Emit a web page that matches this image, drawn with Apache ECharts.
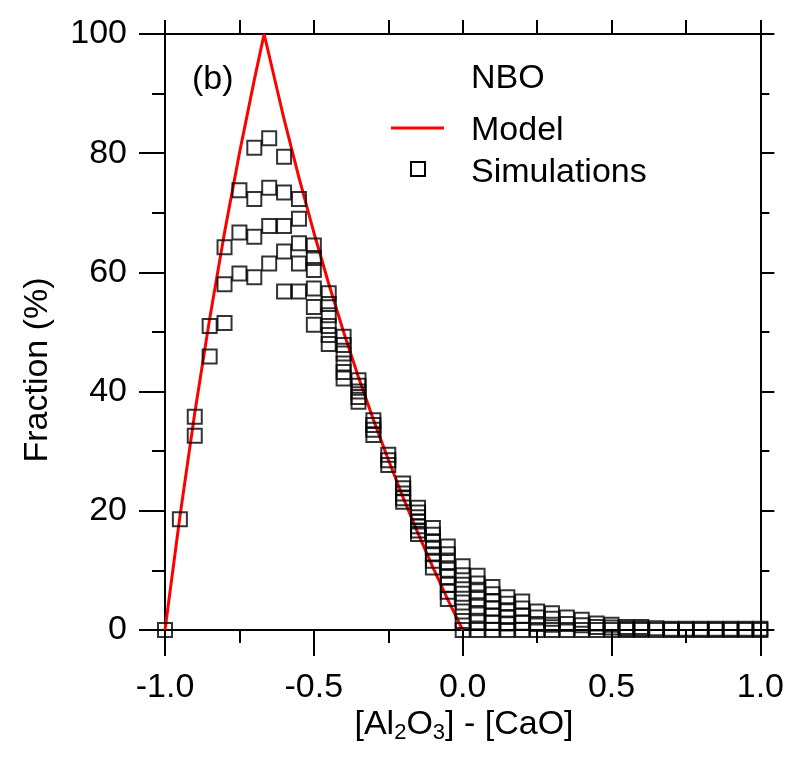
<!DOCTYPE html>
<html><head><meta charset="utf-8">
<script src="https://cdn.jsdelivr.net/npm/echarts@6/dist/echarts.min.js"></script>
<style>html,body{margin:0;padding:0;background:#fff}#c{width:787px;height:757px}</style>
</head><body><div id="c"></div>
<script>
// Model curve
const modelX = [-1.0, -0.95, -0.9, -0.85, -0.8, -0.75, -0.7, -0.667, -0.6, -0.55, -0.5, -0.45, -0.4, -0.35, -0.3, -0.25, -0.2, -0.15, -0.1, -0.05, 0.0];
const modelY = [0, 19.0, 36.4, 52.2, 66.7, 80.0, 92.3, 100, 85.7, 75.9, 66.7, 58.1, 50.0, 42.4, 35.3, 28.6, 22.2, 16.2, 10.5, 5.1, 0];

// Simulations: x columns and the values found in each column
const simX = [-1.0, -0.95, -0.9, -0.85, -0.8, -0.75, -0.7, -0.65, -0.6, -0.55, -0.5, -0.45, -0.4, -0.35, -0.3, -0.25, -0.2, -0.15, -0.1, -0.05, 0.0,
  0.05, 0.1, 0.15, 0.2, 0.25, 0.3, 0.35, 0.4, 0.45, 0.5, 0.55, 0.6, 0.65, 0.7, 0.75, 0.8, 0.85, 0.9, 0.95, 1.0];
const simY = [
  [0],
  [18.6],
  [35.8, 32.6],
  [51.0, 45.9],
  [64.2, 58.0, 51.5],
  [73.8, 66.7, 59.8],
  [80.9, 72.3, 66.0, 59.2],
  [82.5, 74.2, 67.8, 61.5],
  [79.4, 73.4, 67.8, 63.5, 56.8],
  [72.3, 69.0, 64.9, 61.5, 56.8],
  [64.5, 62.4, 60.4, 57.3, 54.2, 51.2],
  [56.5, 54.7, 52.8, 51.0, 49.5, 48.0],
  [49.2, 47.8, 46.4, 44.7, 43.3, 42.2],
  [41.9, 41.0, 40.0, 39.1, 38.3],
  [35.2, 34.4, 33.6, 32.7],
  [29.4, 28.5, 27.7],
  [24.6, 23.8, 22.9, 22.1, 21.5],
  [20.5, 19.7, 18.9, 18.2, 17.4, 16.7, 16.1],
  [17.1, 16.0, 14.9, 13.8, 12.7, 11.6, 10.5],
  [14.0, 12.7, 11.4, 10.1, 8.9, 7.6, 6.4, 5.2],
  [10.7, 9.2, 7.6, 6.1, 4.6, 3.1, 1.5, 0],
  [9.1, 7.8, 6.5, 5.2, 3.9, 2.6, 1.3, 0],
  [7.2, 6.0, 4.8, 3.6, 2.4, 1.2, 0],
  [5.5, 4.4, 3.3, 2.2, 1.1, 0],
  [4.8, 3.6, 2.4, 1.2, 0],
  [3.1, 2.1, 1.0, 0],
  [2.8, 1.9, 0.9, 0],
  [2.1, 1.0, 0],
  [1.7, 0.8, 0],
  [1.1, 0.5, 0],
  [0.9, 0.4, 0],
  [0.5, 0.2, 0],
  [0.5, 0.2, 0],
  [0.3, 0],
  [0.2, 0],
  [0.2, 0],
  [0.2, 0],
  [0.2, 0],
  [0.2, 0],
  [0.2, 0],
  [0.2, 0]
];

const xTickLabels = ['-1.0', '-0.5', '0.0', '0.5', '1.0'];
const yTickLabels = ['0', '20', '40', '60', '80', '100'];

const modelData = modelX.map((x, i) => [x, modelY[i]]);
const simData = [];
simX.forEach((x, i) => simY[i].forEach(y => simData.push([x, y])));

const FONT = "'Liberation Sans', Arial, sans-serif";
const FS = 34;
const tickStyle = {color: '#000', width: 2};

function xAxisCfg(pos, labels, major, minor) {
  return {
    type: 'value', position: pos, min: -1, max: 1, interval: 0.5,
    axisLine: {show: true, onZero: false, lineStyle: {color: '#000', width: 2}},
    axisTick: {show: true, inside: false, length: major, lineStyle: tickStyle},
    minorTick: {show: true, splitNumber: 2, length: minor, lineStyle: tickStyle},
    splitLine: {show: false},
    axisLabel: {show: labels, margin: 41, color: '#000', fontSize: FS, fontFamily: FONT,
      formatter: v => xTickLabels[Math.round((v + 1) / 0.5)]}
  };
}
function yAxisCfg(pos, labels, major, minor) {
  return {
    type: 'value', position: pos, min: 0, max: 100, interval: 20,
    axisLine: {show: true, onZero: false, lineStyle: {color: '#000', width: 2}},
    axisTick: {show: true, inside: false, length: major, lineStyle: tickStyle},
    minorTick: {show: true, splitNumber: 2, length: minor, lineStyle: tickStyle},
    splitLine: {show: false},
    axisLabel: {show: labels, margin: 38, color: '#000', fontSize: FS, fontFamily: FONT,
      formatter: v => yTickLabels[Math.round(v / 20)]}
  };
}

const chart = echarts.init(document.getElementById('c'), null, {renderer: 'canvas'});
chart.setOption({
  backgroundColor: '#fff',
  animation: false,
  grid: {left: 165, top: 34, right: 25, bottom: 127, containLabel: false},
  xAxis: [xAxisCfg('bottom', true, 26, 13), xAxisCfg('top', false, 14, 14)],
  yAxis: [yAxisCfg('left', true, 26, 13), yAxisCfg('right', false, 14, 9)],
  series: [
    {
      name: 'Model', type: 'line', data: modelData, xAxisIndex: 0, yAxisIndex: 0,
      symbol: 'none', smooth: false, z: 2,
      lineStyle: {color: '#ff0000', width: 3}
    },
    {
      name: 'Simulations', type: 'scatter', data: simData, xAxisIndex: 0, yAxisIndex: 0,
      symbol: 'rect', symbolSize: 14, z: 3,
      itemStyle: {color: 'rgba(0,0,0,0)', borderColor: '#000', borderWidth: 2}
    }
  ],
  graphic: [
    {type: 'text', left: 192, top: 63, style: {text: '(b)', fontSize: FS, fontFamily: FONT, fill: '#000'}},
    {type: 'text', left: 471, top: 62, style: {text: 'NBO', fontSize: FS, fontFamily: FONT, fill: '#000'}},
    {type: 'line', shape: {x1: 391, y1: 128, x2: 444, y2: 128}, style: {stroke: '#ff0000', lineWidth: 3}},
    {type: 'text', left: 471, top: 114, style: {text: 'Model', fontSize: FS, fontFamily: FONT, fill: '#000'}},
    {type: 'rect', shape: {x: 411, y: 162, width: 14, height: 14}, style: {fill: 'none', stroke: '#000', lineWidth: 2}},
    {type: 'text', left: 471, top: 156, style: {text: 'Simulations', fontSize: FS, fontFamily: FONT, fill: '#000'}},
    {type: 'text', x: 38, y: 370, rotation: Math.PI / 2,
      style: {text: 'Fraction (%)', fontSize: FS, fontFamily: FONT, fill: '#000', align: 'center', verticalAlign: 'middle'}},
    {type: 'text', x: 464, y: 725,
      style: {text: '[Al{s|2}O{s|3}] - [CaO]', fontSize: FS, fontFamily: FONT, fill: '#000', align: 'center', verticalAlign: 'middle',
        rich: {s: {fontSize: 22, fontFamily: FONT, fill: '#000', padding: [16, 0, 0, 0]}}}}
  ]
});
</script></body></html>
